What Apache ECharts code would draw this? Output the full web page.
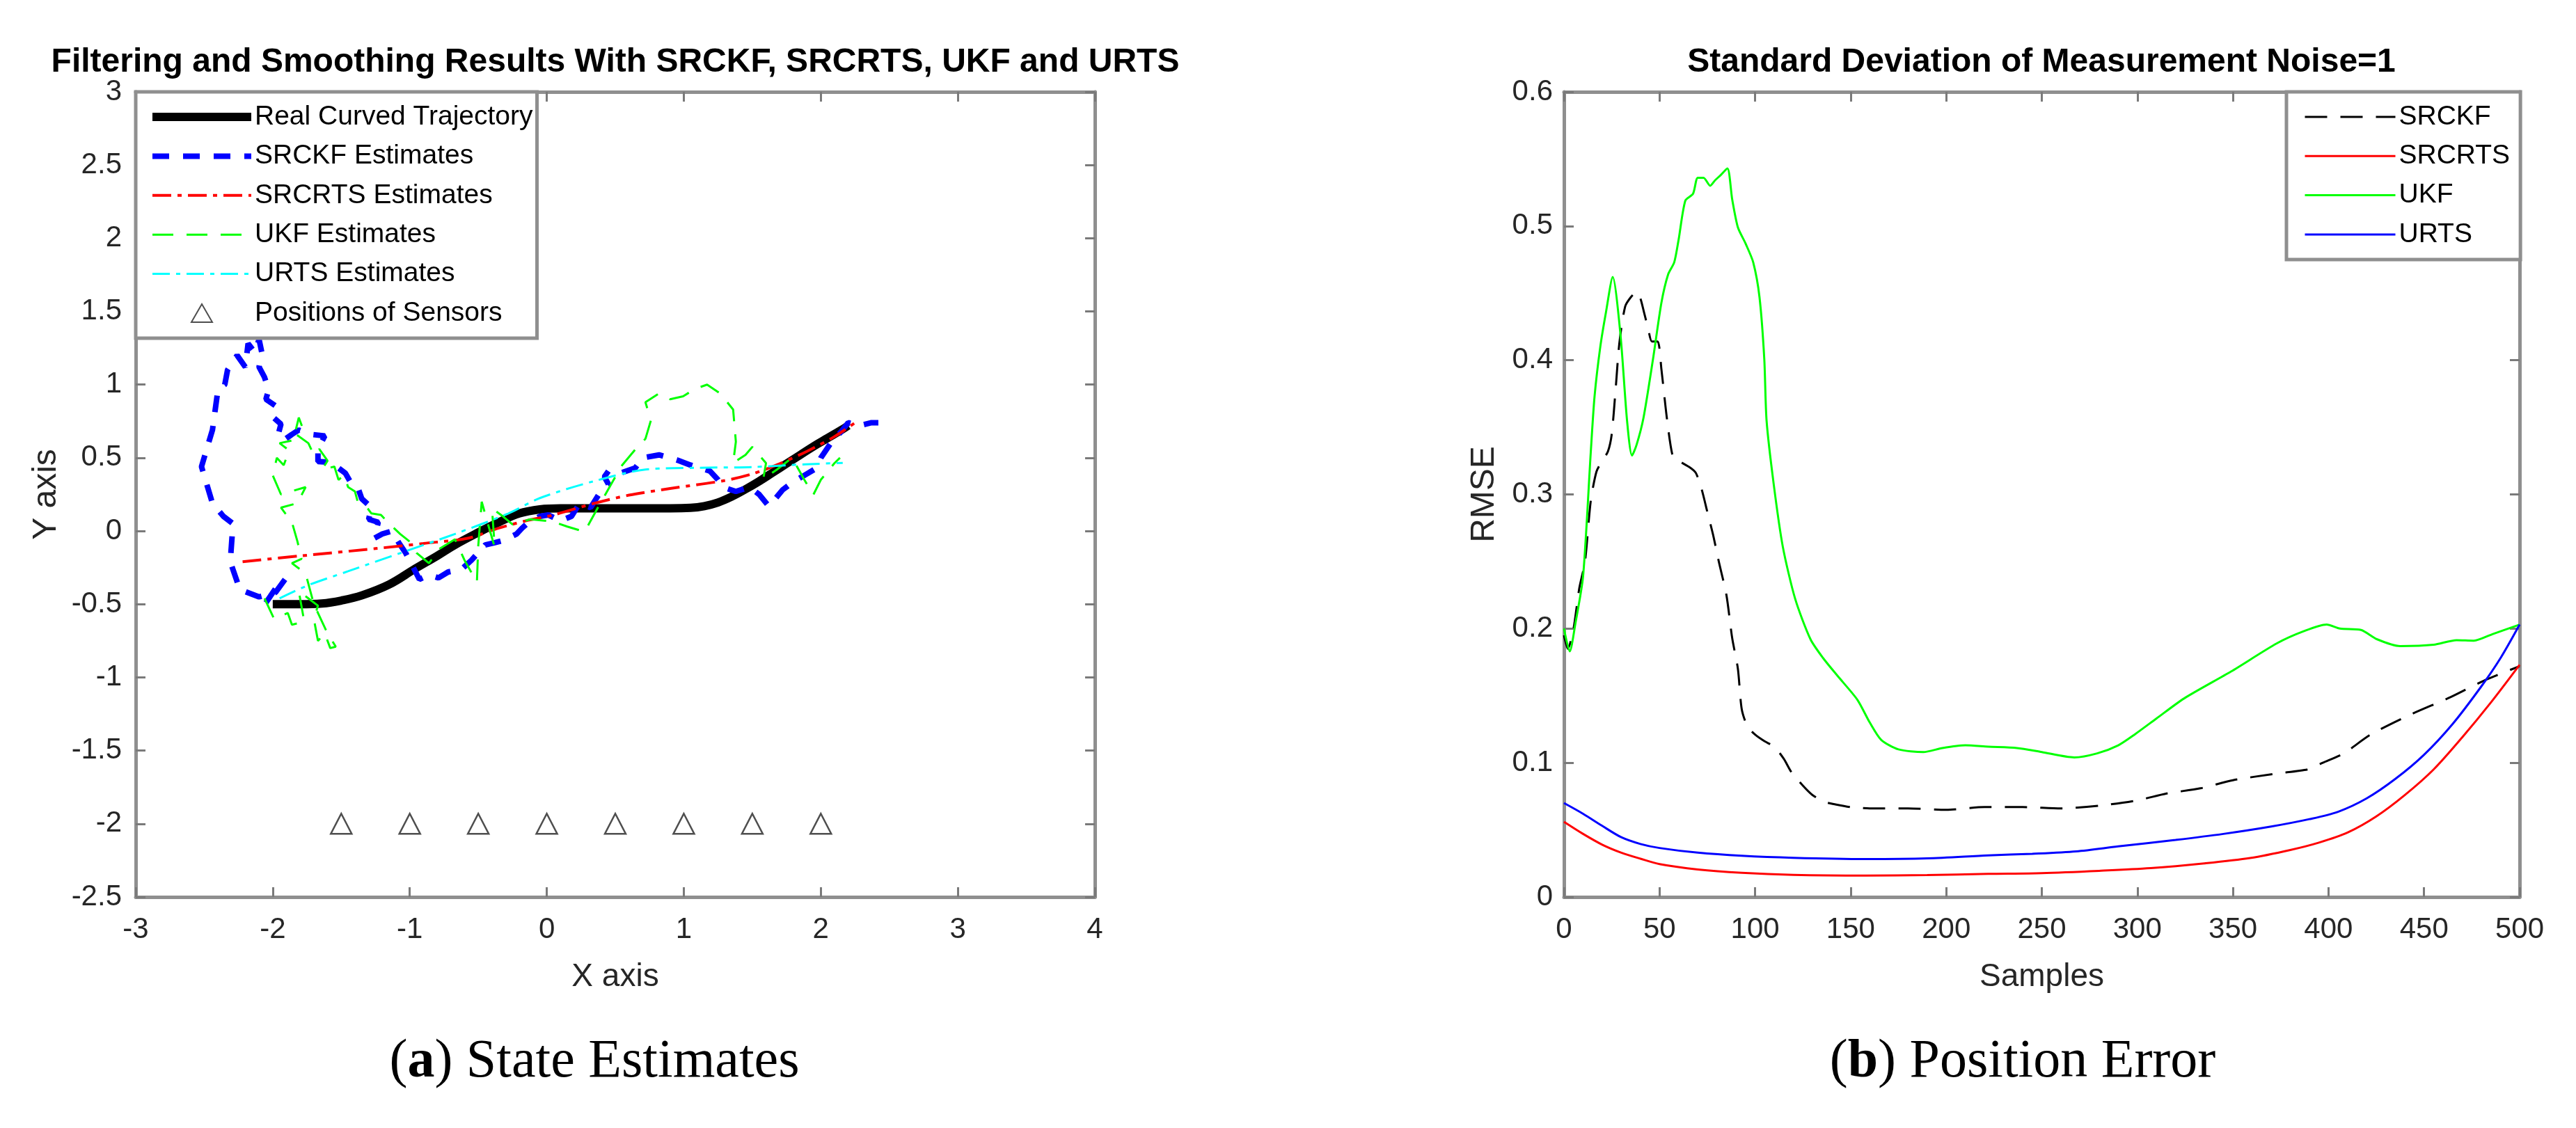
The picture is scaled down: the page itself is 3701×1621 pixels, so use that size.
<!DOCTYPE html>
<html>
<head>
<meta charset="utf-8">
<script src="https://cdn.jsdelivr.net/npm/echarts@6/dist/echarts.min.js"></script>
<style>
html, body { margin: 0; padding: 0; background: #fff; }
#main { width: 3701px; height: 1621px; }
</style>
</head>
<body>
<div id="main"></div>
<script>
// ---- left panel: trajectories [x, y] ----
var realTraj = [[-2.0,-0.5],[-1.8,-0.5],[-1.64,-0.495],[-1.5,-0.475],[-1.35,-0.44],[-1.15,-0.365],[-0.96,-0.257],[-0.8,-0.17],[-0.67,-0.095],[-0.5,-0.01],[-0.35,0.06],[-0.2,0.12],[-0.05,0.148],[0.1,0.155],[0.3,0.155],[0.5,0.155],[0.7,0.155],[0.9,0.155],[1.05,0.158],[1.15,0.17],[1.25,0.195],[1.35,0.235],[1.45,0.285],[1.55,0.34],[1.65,0.4],[1.75,0.46],[1.85,0.52],[1.95,0.58],[2.05,0.635],[2.15,0.69],[2.2,0.72]];

var srckfEst = [[-2.05,-0.49],[-1.97,-0.38],[-1.91,-0.33],[-1.98,-0.42],[-2.1,-0.45],[-2.24,-0.4],[-2.31,-0.21],[-2.29,0.05],[-2.36,0.1],[-2.44,0.19],[-2.52,0.44],[-2.44,0.69],[-2.4,0.965],[-2.35,1.0],[-2.33,1.1],[-2.26,1.2],[-2.2,1.12],[-2.18,1.28],[-2.13,1.22],[-2.1,1.31],[-2.08,1.22],[-2.1,1.12],[-2.06,1.05],[-2.03,0.965],[-2.05,0.9],[-1.98,0.855],[-2.0,0.78],[-1.94,0.73],[-1.96,0.66],[-1.92,0.62],[-1.86,0.66],[-1.81,0.69],[-1.72,0.66],[-1.62,0.65],[-1.67,0.56],[-1.67,0.475],[-1.6,0.47],[-1.52,0.43],[-1.47,0.395],[-1.43,0.33],[-1.38,0.3],[-1.35,0.22],[-1.28,0.16],[-1.3,0.08],[-1.23,0.06],[-1.26,-0.05],[-1.2,-0.02],[-1.13,0.0],[-1.08,-0.08],[-1.03,-0.15],[-0.99,-0.22],[-0.93,-0.33],[-0.86,-0.3],[-0.79,-0.32],[-0.72,-0.28],[-0.62,-0.26],[-0.55,-0.2],[-0.45,-0.095],[-0.38,-0.08],[-0.32,-0.065],[-0.22,-0.02],[-0.18,0.02],[-0.15,0.045],[-0.05,0.1],[0.01,0.11],[0.1,0.07],[0.18,0.1],[0.24,0.19],[0.32,0.16],[0.38,0.25],[0.45,0.32],[0.42,0.37],[0.45,0.41],[0.55,0.4],[0.645,0.43],[0.7,0.5],[0.82,0.52],[0.9,0.5],[0.957,0.483],[1.05,0.45],[1.19,0.41],[1.25,0.35],[1.285,0.3],[1.38,0.27],[1.48,0.3],[1.55,0.25],[1.62,0.17],[1.65,0.2],[1.72,0.28],[1.79,0.33],[1.88,0.38],[1.97,0.43],[2.0,0.5],[2.08,0.61],[2.15,0.68],[2.2,0.74],[2.28,0.72],[2.37,0.74],[2.42,0.74]];

var srcrtsEst = [[-2.22,-0.21],[-1.8,-0.17],[-1.25,-0.12],[-0.9,-0.085],[-0.57,-0.048],[-0.35,0.02],[-0.15,0.07],[0.05,0.11],[0.35,0.19],[0.6,0.245],[0.9,0.29],[1.3,0.345],[1.5,0.39],[1.7,0.46],[1.9,0.545],[2.1,0.645],[2.25,0.74]];

var ukfEst = [[-2.06,-0.46],[-1.99,-0.6],[-1.89,-0.56],[-1.86,-0.64],[-1.77,-0.62],[-1.81,-0.41],[-1.67,-0.51],[-1.7,-0.6],[-1.67,-0.75],[-1.62,-0.7],[-1.58,-0.8],[-1.54,-0.79],[-1.6,-0.7],[-1.7,-0.5],[-1.76,-0.29],[-1.86,-0.22],[-1.79,-0.19],[-1.82,-0.07],[-1.86,0.06],[-1.94,0.16],[-1.82,0.19],[-1.76,0.3],[-1.94,0.25],[-2.0,0.38],[-1.97,0.5],[-1.92,0.45],[-1.88,0.55],[-1.95,0.6],[-1.85,0.62],[-1.81,0.775],[-1.78,0.7],[-1.83,0.66],[-1.74,0.6],[-1.7,0.52],[-1.66,0.56],[-1.6,0.48],[-1.64,0.42],[-1.55,0.44],[-1.52,0.35],[-1.48,0.38],[-1.45,0.3],[-1.4,0.27],[-1.38,0.2],[-1.32,0.17],[-1.28,0.12],[-1.21,0.11],[-1.15,0.05],[-1.07,-0.02],[-1.0,-0.073],[-0.95,-0.15],[-0.86,-0.22],[-0.78,-0.12],[-0.67,-0.057],[-0.6,-0.2],[-0.51,-0.35],[-0.5,-0.1],[-0.475,0.2],[-0.43,0.05],[-0.38,-0.11],[-0.4,0.155],[-0.32,0.1],[-0.25,0.045],[-0.12,0.08],[0.04,0.065],[0.15,0.03],[0.276,-0.005],[0.37,0.155],[0.47,0.32],[0.55,0.45],[0.645,0.556],[0.72,0.63],[0.76,0.756],[0.72,0.88],[0.82,0.94],[0.9,0.9],[0.995,0.92],[1.08,0.97],[1.17,1.0],[1.265,0.94],[1.36,0.83],[1.38,0.61],[1.36,0.464],[1.45,0.52],[1.5,0.574],[1.6,0.464],[1.58,0.355],[1.68,0.42],[1.79,0.5],[1.88,0.35],[1.945,0.247],[2.0,0.35],[2.1,0.464],[2.14,0.5]];

var urtsEst = [[-1.95,-0.46],[-1.74,-0.37],[-1.45,-0.275],[-1.06,-0.148],[-0.67,-0.02],[-0.28,0.12],[-0.05,0.225],[0.335,0.338],[0.72,0.42],[1.11,0.432],[1.5,0.437],[1.89,0.456],[2.16,0.465]];

var sensorX = [-1.5, -1, -0.5, 0, 0.5, 1, 1.5, 2];
var sensorY = -2;

// ---- right panel: RMSE vs samples [sample, rmse] ----
var rmseSrckf = [[0,0.195],[2,0.185],[5,0.2],[8,0.23],[11,0.25],[14,0.295],[17,0.317],[20,0.325],[23,0.332],[25,0.345],[27,0.378],[29,0.413],[32,0.44],[35,0.447],[38,0.451],[40,0.446],[42,0.435],[44,0.424],[46,0.414],[49,0.414],[51,0.393],[54,0.355],[57,0.328],[60,0.325],[66,0.32],[69,0.316],[72,0.304],[75,0.287],[78,0.27],[81,0.25],[85,0.225],[88,0.193],[91,0.17],[93,0.14],[96,0.127],[100,0.121],[105,0.116],[110,0.112],[115,0.103],[119,0.093],[125,0.083],[130,0.076],[136,0.071],[142,0.069],[150,0.067],[160,0.066],[180,0.066],[200,0.065],[220,0.067],[240,0.067],[260,0.066],[280,0.068],[300,0.072],[315,0.077],[333,0.081],[350,0.087],[373,0.092],[389,0.095],[397,0.1],[408,0.107],[422,0.121],[443,0.136],[464,0.149],[481,0.161],[500,0.172]];

var rmseSrcrts = [[0,0.056],[10,0.047],[20,0.039],[30,0.033],[40,0.0285],[50,0.0245],[70,0.0205],[93,0.018],[120,0.0165],[158,0.016],[190,0.0163],[222,0.0172],[250,0.0178],[280,0.0195],[307,0.0215],[335,0.025],[359,0.029],[380,0.035],[395,0.0405],[410,0.048],[425,0.06],[440,0.076],[455,0.095],[470,0.119],[485,0.145],[500,0.173]];

var rmseUkf = [[0,0.2],[3,0.183],[6,0.204],[10,0.239],[14,0.331],[16,0.373],[19,0.41],[22,0.436],[25.5,0.462],[29.5,0.42],[33,0.355],[35.6,0.329],[38,0.337],[41.6,0.357],[46.6,0.401],[51,0.443],[54.5,0.464],[57.7,0.473],[60,0.49],[63.5,0.519],[67.5,0.524],[70,0.536],[73,0.536],[76.5,0.53],[79,0.534],[82,0.538],[85.5,0.543],[88,0.52],[91,0.499],[95,0.487],[99,0.473],[102.3,0.447],[104.8,0.401],[106,0.355],[109.7,0.308],[114.5,0.261],[121,0.222],[129,0.192],[135.6,0.178],[143,0.165],[153.5,0.147],[160,0.13],[166,0.117],[175,0.11],[188,0.108],[198,0.111],[210,0.113],[222,0.112],[237,0.111],[250,0.108],[267,0.104],[279,0.107],[290,0.113],[298.5,0.121],[310,0.133],[324.5,0.148],[349,0.168],[373,0.189],[387,0.198],[399,0.203],[406,0.2],[417,0.199],[425.5,0.192],[437.5,0.187],[455,0.188],[467,0.1914],[476,0.191],[486,0.196],[500,0.203]];

var rmseUrts = [[0,0.07],[10,0.062],[20,0.053],[30,0.0445],[40,0.0395],[50,0.0365],[70,0.033],[93,0.0307],[120,0.0292],[158,0.0283],[190,0.0288],[222,0.031],[245,0.0322],[268,0.034],[290,0.0377],[320,0.0425],[345,0.047],[370,0.0525],[390,0.058],[405,0.0635],[420,0.0735],[435,0.088],[450,0.106],[465,0.129],[480,0.157],[490,0.178],[500,0.203]];

var FONT = 'Liberation Sans, Arial, Helvetica, sans-serif';
var SERIF = 'Liberation Serif, Times New Roman, serif';
var AXIS_GRAY = '#8f8f8f';
var TEXT_DARK = '#262626';
// triangle drawn inside the full legend item box so it keeps its shape
var TRI_ICON = 'path://M0,0M142,28M56,27L71,1L86,27Z';

function boxAxis(opts) {
  var a = {
    type: 'value',
    gridIndex: opts.grid,
    position: opts.position,
    min: opts.min, max: opts.max, interval: opts.interval,
    splitLine: { show: false },
    axisLine: { show: true, onZero: false, lineStyle: { color: AXIS_GRAY, width: 5 } },
    axisTick: { show: true, inside: true, length: 14, lineStyle: { color: '#7a7a7a', width: 3 } },
    axisLabel: { show: false }
  };
  if (opts.labels) {
    a.axisLabel = {
      show: true, color: TEXT_DARK, fontSize: 42, fontFamily: FONT,
      margin: opts.margin, showMinLabel: true, showMaxLabel: true
    };
  }
  if (opts.name) {
    a.name = opts.name;
    a.nameLocation = 'middle';
    a.nameGap = opts.nameGap;
    a.nameTextStyle = { color: TEXT_DARK, fontSize: opts.nameSize, fontFamily: FONT };
  }
  return a;
}

function lineItem(name) {
  return { name: name, itemStyle: { opacity: 0 } };
}

var myChart = echarts.init(document.getElementById('main'));

myChart.setOption({
  animation: false,
  backgroundColor: '#fff',
  grid: [
    { left: 195, top: 132, width: 1378, height: 1157, containLabel: false, outerBoundsMode: 'none' },
    { left: 2247, top: 132, width: 1373, height: 1157, containLabel: false, outerBoundsMode: 'none' }
  ],
  xAxis: [
    boxAxis({ grid: 0, position: 'bottom', min: -3, max: 4, interval: 1, labels: true, margin: 26, name: 'X axis', nameGap: 92, nameSize: 46 }),
    boxAxis({ grid: 0, position: 'top', min: -3, max: 4, interval: 1 }),
    boxAxis({ grid: 1, position: 'bottom', min: 0, max: 500, interval: 50, labels: true, margin: 26, name: 'Samples', nameGap: 92, nameSize: 46 }),
    boxAxis({ grid: 1, position: 'top', min: 0, max: 500, interval: 50 })
  ],
  yAxis: [
    boxAxis({ grid: 0, position: 'left', min: -2.5, max: 3, interval: 0.5, labels: true, margin: 20, name: 'Y axis', nameGap: 104, nameSize: 48 }),
    boxAxis({ grid: 0, position: 'right', min: -2.5, max: 3, interval: 0.5 }),
    boxAxis({ grid: 1, position: 'left', min: 0, max: 0.6, interval: 0.1, labels: true, margin: 16, name: 'RMSE', nameGap: 90, nameSize: 48 }),
    boxAxis({ grid: 1, position: 'right', min: 0, max: 0.6, interval: 0.1 })
  ],
  legend: [
    {
      data: [
        lineItem('Real Curved Trajectory'),
        lineItem('SRCKF Estimates'),
        lineItem('SRCRTS Estimates'),
        lineItem('UKF Estimates'),
        lineItem('URTS Estimates'),
        { name: 'Positions of Sensors', icon: TRI_ICON, symbolKeepAspect: true }
      ],
      orient: 'vertical',
      left: 195, top: 132,
      padding: [16, 6, 16, 18],
      itemWidth: 142, itemHeight: 28, itemGap: 16.4,
      backgroundColor: '#fff',
      borderColor: AXIS_GRAY, borderWidth: 5, borderRadius: 0,
      lineStyle: { width: 'inherit', type: 'inherit' },
      textStyle: { color: '#000', fontSize: 39, fontFamily: FONT, lineHeight: 40 }
    },
    {
      data: [lineItem('SRCKF'), lineItem('SRCRTS'), lineItem('UKF'), lineItem('URTS')],
      orient: 'vertical',
      left: 3285, top: 132,
      padding: [16, 15, 16, 25],
      itemWidth: 130, itemHeight: 14, itemGap: 16.3,
      backgroundColor: '#fff',
      borderColor: AXIS_GRAY, borderWidth: 5, borderRadius: 0,
      lineStyle: { width: 'inherit', type: 'inherit' },
      textStyle: { color: '#000', fontSize: 39, fontFamily: FONT, lineHeight: 40 }
    }
  ],
  graphic: [
    { type: 'text', x: 884, y: 90, style: { text: 'Filtering and Smoothing Results With SRCKF, SRCRTS, UKF and URTS', fontSize: 48, fontWeight: 'bold', fontFamily: FONT, fill: '#000', align: 'center', verticalAlign: 'middle' } },
    { type: 'text', x: 2933, y: 90, style: { text: 'Standard Deviation of Measurement Noise=1', fontSize: 48, fontWeight: 'bold', fontFamily: FONT, fill: '#000', align: 'center', verticalAlign: 'middle' } },
    { type: 'text', x: 854, y: 1527, style: { text: '({b|a}) State Estimates', fontSize: 78, fontFamily: SERIF, fill: '#000', align: 'center', verticalAlign: 'middle',
      rich: { b: { fontSize: 78, fontFamily: SERIF, fontWeight: 'bold', fill: '#000' } } } },
    { type: 'text', x: 2906, y: 1527, style: { text: '({b|b}) Position Error', fontSize: 78, fontFamily: SERIF, fill: '#000', align: 'center', verticalAlign: 'middle',
      rich: { b: { fontSize: 78, fontFamily: SERIF, fontWeight: 'bold', fill: '#000' } } } }
  ],
  series: [
    { name: 'Real Curved Trajectory', type: 'line', xAxisIndex: 0, yAxisIndex: 0, data: realTraj, smooth: 0.4, symbol: 'none',
      lineStyle: { color: '#000', width: 12 }, itemStyle: { color: '#000' } },
    { name: 'SRCKF Estimates', type: 'line', xAxisIndex: 0, yAxisIndex: 0, data: srckfEst, symbol: 'none',
      lineStyle: { color: '#0000ff', width: 8, type: [24, 20] }, itemStyle: { color: '#0000ff' } },
    { name: 'SRCRTS Estimates', type: 'line', xAxisIndex: 0, yAxisIndex: 0, data: srcrtsEst, smooth: 0.3, symbol: 'none',
      lineStyle: { color: '#ff0000', width: 4, type: [27, 9, 6, 9] }, itemStyle: { color: '#ff0000' } },
    { name: 'UKF Estimates', type: 'line', xAxisIndex: 0, yAxisIndex: 0, data: ukfEst, symbol: 'none',
      lineStyle: { color: '#00ff00', width: 3, type: [30, 19] }, itemStyle: { color: '#00ff00' } },
    { name: 'URTS Estimates', type: 'line', xAxisIndex: 0, yAxisIndex: 0, data: urtsEst, smooth: 0.3, symbol: 'none',
      lineStyle: { color: '#00ffff', width: 3, type: [25, 9, 6, 9] }, itemStyle: { color: '#00ffff' } },
    { name: 'Positions of Sensors', type: 'scatter', xAxisIndex: 0, yAxisIndex: 0,
      data: sensorX.map(function (x) { return [x, sensorY]; }),
      symbol: 'triangle', symbolSize: [30, 29],
      itemStyle: { color: '#fff', borderColor: '#222', borderWidth: 2.5 } },

    { name: 'SRCKF', type: 'line', xAxisIndex: 2, yAxisIndex: 2, data: rmseSrckf, smooth: 0.25, symbol: 'none',
      lineStyle: { color: '#000', width: 3, type: [32, 19] }, itemStyle: { color: '#000' } },
    { name: 'SRCRTS', type: 'line', xAxisIndex: 2, yAxisIndex: 2, data: rmseSrcrts, smooth: 0.3, symbol: 'none',
      lineStyle: { color: '#ff0000', width: 3 }, itemStyle: { color: '#ff0000' } },
    { name: 'UKF', type: 'line', xAxisIndex: 2, yAxisIndex: 2, data: rmseUkf, smooth: 0.25, symbol: 'none',
      lineStyle: { color: '#00ff00', width: 3 }, itemStyle: { color: '#00ff00' } },
    { name: 'URTS', type: 'line', xAxisIndex: 2, yAxisIndex: 2, data: rmseUrts, smooth: 0.3, symbol: 'none',
      lineStyle: { color: '#0000ff', width: 3 }, itemStyle: { color: '#0000ff' } }
  ]
});
</script>
</body>
</html>
